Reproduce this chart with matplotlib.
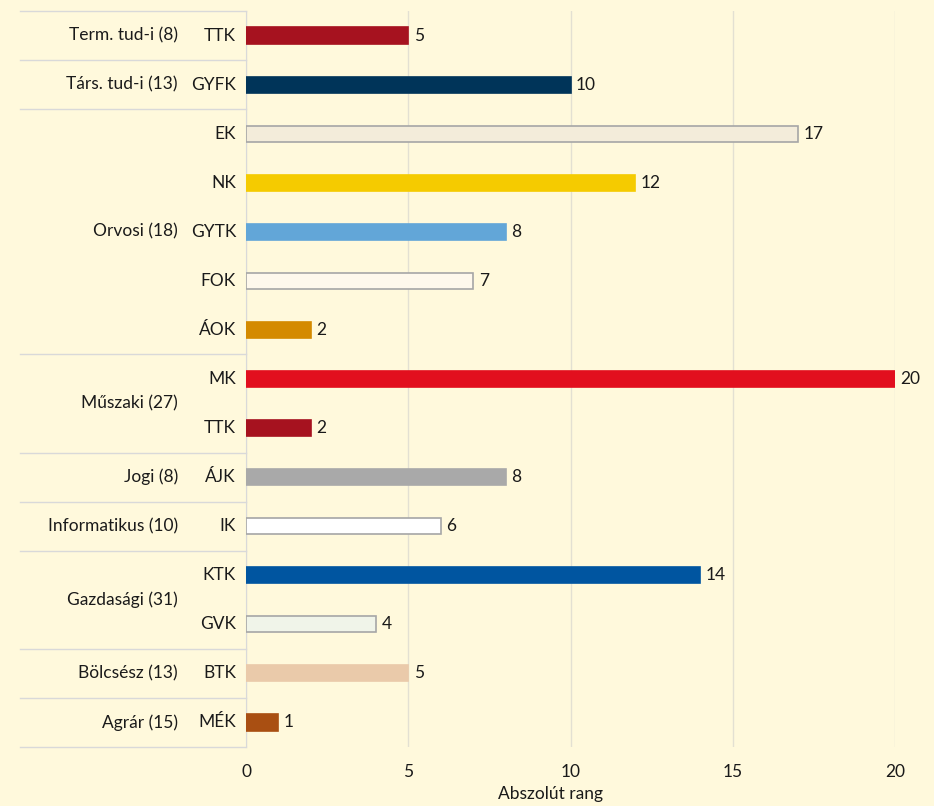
import matplotlib.pyplot as plt
import matplotlib.transforms as mtransforms
import numpy as np

# adatok
karok = ["TTK", "GYFK", "EK", "NK", "GYTK", "FOK", "ÁOK", "MK", "TTK",
         "ÁJK", "IK", "KTK", "GVK", "BTK", "MÉK"]
ertekek = [5, 10, 17, 12, 8, 7, 2, 20, 2, 8, 6, 14, 4, 5, 1]
szinek = ["#A6121F", "#003459", "#F3ECDA", "#F5CB00", "#62A6D8", "#FEF8EC",
          "#D48A00", "#E20F1E", "#A6121F", "#A9A9A9", "#FFFFFF", "#0055A0",
          "#F0F4E9", "#EACAAA", "#A94F12"]
keretes = ["EK", "FOK", "IK", "GVK"]

csoportok = ["Term. tud-i (8)", "Társ. tud-i (13)", "Orvosi (18)", "Műszaki (27)",
             "Jogi (8)", "Informatikus (10)", "Gazdasági (31)", "Bölcsész (13)",
             "Agrár (15)"]
csoport_meret = [1, 1, 5, 2, 1, 1, 2, 1, 1]

hatter = "#FFF9DC"
vonal = "#D9D9D9"
fs = 12.5
plt.rcParams['font.family'] = ['Lato', 'DejaVu Sans']

fig = plt.figure(figsize=(9.34, 8.06), dpi=100, facecolor=hatter)
ax = fig.add_axes([246 / 934, 1 - 747 / 806, 649 / 934, 736 / 806])
ax.set_facecolor(hatter)

y = np.arange(len(karok))
for i, (k, v, c) in enumerate(zip(karok, ertekek, szinek)):
    ec = "#A6A6A6" if k in keretes else c
    ax.barh(i, v, height=0.33, color=c, edgecolor=ec, linewidth=1.2, zorder=3)
    ax.annotate(str(v), (v, i), xytext=(4, 0), textcoords="offset points",
                va="center", ha="left", fontsize=fs, color="#1a1a1a")

ax.set_ylim(len(karok) - 0.5, -0.5)
ax.set_xlim(0, 20)
ax.set_xticks([0, 5, 10, 15, 20])
ax.set_yticks([])
ax.tick_params(axis="x", length=0, labelsize=fs, pad=12, colors="#1a1a1a")
ax.grid(axis="x", color="#E3E0D2", linewidth=1, zorder=0)
for s in ["top", "right", "bottom"]:
    ax.spines[s].set_visible(False)
ax.spines["left"].set_color(vonal)
ax.set_xlabel("Abszolút rang", fontsize=fs, color="#1a1a1a")
ax.xaxis.set_label_coords((551 - 246) / 649, -39 / 736)

# kar cimkek es csoport cimkek
trans = mtransforms.blended_transform_factory(fig.transFigure, ax.transData)
for i, k in enumerate(karok):
    ax.text(236 / 934, i, k, transform=trans, ha="right", va="center",
            fontsize=fs, color="#1a1a1a")

start = 0
hatarok = [-0.5]
for nev, n in zip(csoportok, csoport_meret):
    kozep = start + (n - 1) / 2
    ax.text(178 / 934, kozep, nev, transform=trans, ha="right", va="center",
            fontsize=fs, color="#1a1a1a")
    start += n
    hatarok.append(start - 0.5)

for h in hatarok:
    ax.plot([20 / 934, 246 / 934], [h, h], transform=trans, color=vonal,
            linewidth=1, clip_on=False)

fig.savefig("out.png", dpi=100, facecolor=hatter)
